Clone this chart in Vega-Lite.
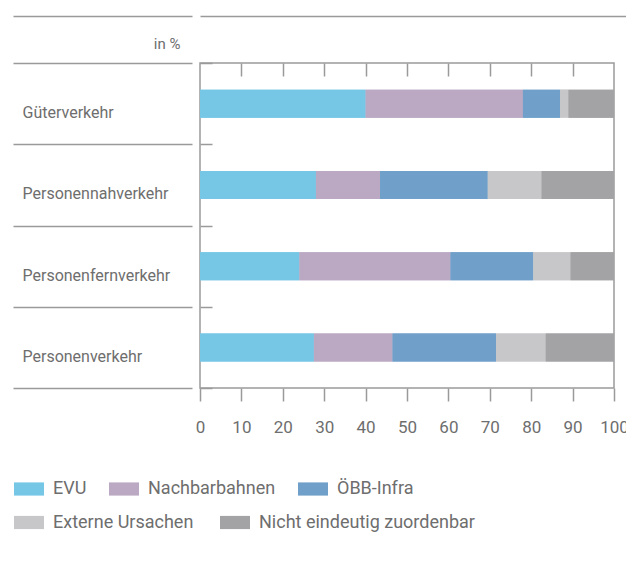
{
  "$schema": "https://vega.github.io/schema/vega-lite/v6.json",
  "width": 414,
  "height": 325,
  "autosize": {"type": "none"},
  "padding": {"left": 200, "top": 63, "right": 12, "bottom": 173},
  "background": "white",
  "config": {
    "font": "Roboto",
    "view": {"stroke": "#9a9a9a", "strokeWidth": 1.5},
    "axis": {"grid": false, "tickColor": "#9a9a9a", "tickWidth": 1.5, "domain": false, "labelColor": "#6e6e6e", "labelFontSize": 17, "labelFont": "Roboto", "titleColor": "#6e6e6e", "titleFont": "Roboto"},
    "legend": {"orient": "none", "direction": "horizontal", "labelFontSize": 18, "labelFont": "Roboto", "labelColor": "#6e6e6e", "labelLimit": 0, "symbolType": "M-1,-0.44H1V0.44H-1Z", "symbolSize": 900, "symbolStrokeWidth": 0, "labelOffset": 9, "columnPadding": 22, "padding": 0}
  },
  "data": {
    "values": [
      {"cat": "Güterverkehr", "cause": "EVU", "value": 40, "rank": 1},
      {"cat": "Güterverkehr", "cause": "Nachbarbahnen", "value": 38, "rank": 2},
      {"cat": "Güterverkehr", "cause": "ÖBB-Infra", "value": 9, "rank": 3},
      {"cat": "Güterverkehr", "cause": "Externe Ursachen", "value": 2, "rank": 4},
      {"cat": "Güterverkehr", "cause": "Nicht eindeutig zuordenbar", "value": 11, "rank": 5},
      {"cat": "Personennahverkehr", "cause": "EVU", "value": 28, "rank": 1},
      {"cat": "Personennahverkehr", "cause": "Nachbarbahnen", "value": 15.5, "rank": 2},
      {"cat": "Personennahverkehr", "cause": "ÖBB-Infra", "value": 26, "rank": 3},
      {"cat": "Personennahverkehr", "cause": "Externe Ursachen", "value": 13, "rank": 4},
      {"cat": "Personennahverkehr", "cause": "Nicht eindeutig zuordenbar", "value": 17.5, "rank": 5},
      {"cat": "Personenfernverkehr", "cause": "EVU", "value": 24, "rank": 1},
      {"cat": "Personenfernverkehr", "cause": "Nachbarbahnen", "value": 36.5, "rank": 2},
      {"cat": "Personenfernverkehr", "cause": "ÖBB-Infra", "value": 20, "rank": 3},
      {"cat": "Personenfernverkehr", "cause": "Externe Ursachen", "value": 9, "rank": 4},
      {"cat": "Personenfernverkehr", "cause": "Nicht eindeutig zuordenbar", "value": 10.5, "rank": 5},
      {"cat": "Personenverkehr", "cause": "EVU", "value": 27.5, "rank": 1},
      {"cat": "Personenverkehr", "cause": "Nachbarbahnen", "value": 19, "rank": 2},
      {"cat": "Personenverkehr", "cause": "ÖBB-Infra", "value": 25, "rank": 3},
      {"cat": "Personenverkehr", "cause": "Externe Ursachen", "value": 12, "rank": 4},
      {"cat": "Personenverkehr", "cause": "Nicht eindeutig zuordenbar", "value": 16.5, "rank": 5}
    ]
  },
  "layer": [
    {
      "mark": {"type": "bar", "size": 28},
      "encoding": {
        "y": {
          "field": "cat", "type": "nominal", "sort": null,
          "scale": {"domain": ["Güterverkehr", "Personennahverkehr", "Personenfernverkehr", "Personenverkehr"], "paddingInner": 0, "paddingOuter": 0},
          "axis": {"orient": "left", "offset": 8, "tickBand": "extent", "tickSize": 179, "labelAlign": "left", "labelPadding": -9, "labelOffset": 9, "labelBaseline": "middle", "labelFontSize": 16, "title": null, "domain": false}
        },
        "x": {
          "field": "value", "type": "quantitative", "stack": "zero",
          "scale": {"domain": [0, 100], "nice": false},
          "axis": {"orient": "bottom", "values": [0, 10, 20, 30, 40, 50, 60, 70, 80, 90, 100], "tickSize": 13, "labelPadding": 18, "labelFlush": false, "title": null}
        },
        "color": {
          "field": "cause", "type": "nominal",
          "scale": {"domain": ["EVU", "Nachbarbahnen", "ÖBB-Infra", "Externe Ursachen", "Nicht eindeutig zuordenbar"], "range": ["#76c7e6", "#bba9c4", "#70a0c9", "#c7c7c9", "#a3a3a5"]},
          "legend": {"values": ["EVU", "Nachbarbahnen", "ÖBB-Infra"], "orient": "none", "legendX": -186, "legendY": 411, "direction": "horizontal", "title": null, "labelFontSize": 18, "labelLimit": 0, "columnPadding": 22}
        },
        "order": {"field": "rank", "type": "quantitative"}
      }
    },
    {
      "mark": {"type": "bar", "size": 28},
      "encoding": {
        "y": {
          "field": "cat", "type": "nominal", "sort": null,
          "scale": {"domain": ["Güterverkehr", "Personennahverkehr", "Personenfernverkehr", "Personenverkehr"], "paddingInner": 0, "paddingOuter": 0},
          "axis": {"orient": "left", "offset": 0, "tickBand": "extent", "tickSize": -12, "labels": false, "title": null, "domain": false}
        },
        "x": {
          "field": "value", "type": "quantitative", "stack": "zero",
          "scale": {"domain": [0, 100], "nice": false},
          "axis": {"orient": "top", "values": [10, 20, 30, 40, 50, 60, 70, 80, 90], "tickSize": -13, "labels": false, "domain": false, "title": "in %", "titleX": -20, "titleY": -15, "titleAlign": "right", "titleBaseline": "alphabetic", "titleFontSize": 15, "titleFontWeight": "normal", "titleColor": "#6e6e6e"}
        },
        "fill": {
          "field": "cause", "type": "nominal",
          "scale": {"domain": ["Externe Ursachen", "Nicht eindeutig zuordenbar", "EVU", "Nachbarbahnen", "ÖBB-Infra"], "range": ["#c7c7c9", "#a3a3a5", "#76c7e6", "#bba9c4", "#70a0c9"]},
          "legend": {"values": ["Externe Ursachen", "Nicht eindeutig zuordenbar"], "orient": "none", "legendX": -186, "legendY": 444.5, "direction": "horizontal", "title": null, "labelFontSize": 18, "labelLimit": 0, "columnPadding": 26}
        },
        "order": {"field": "rank", "type": "quantitative"}
      }
    },
    {
      "mark": {"type": "point", "opacity": 0},
      "encoding": {
        "y": {
          "field": "cat", "type": "nominal", "sort": null,
          "scale": {"domain": ["Güterverkehr", "Personennahverkehr", "Personenfernverkehr", "Personenverkehr"], "paddingInner": 0, "paddingOuter": 0},
          "axis": {"orient": "left", "offset": 8, "values": ["Güterverkehr"], "bandPosition": 0, "tickOffset": -47, "tickSize": 179, "labels": false, "title": null, "domain": false}
        }
      }
    },
    {
      "mark": {"type": "point", "opacity": 0},
      "encoding": {
        "y": {
          "field": "cat", "type": "nominal", "sort": null,
          "scale": {"domain": ["Güterverkehr", "Personennahverkehr", "Personenfernverkehr", "Personenverkehr"], "paddingInner": 0, "paddingOuter": 0},
          "axis": {"orient": "left", "offset": 0, "values": ["Güterverkehr"], "bandPosition": 0, "tickOffset": -47, "tickSize": -426, "labels": false, "title": null, "domain": false}
        }
      }
    }
  ],
  "resolve": {"axis": {"x": "independent", "y": "independent"}}
}
